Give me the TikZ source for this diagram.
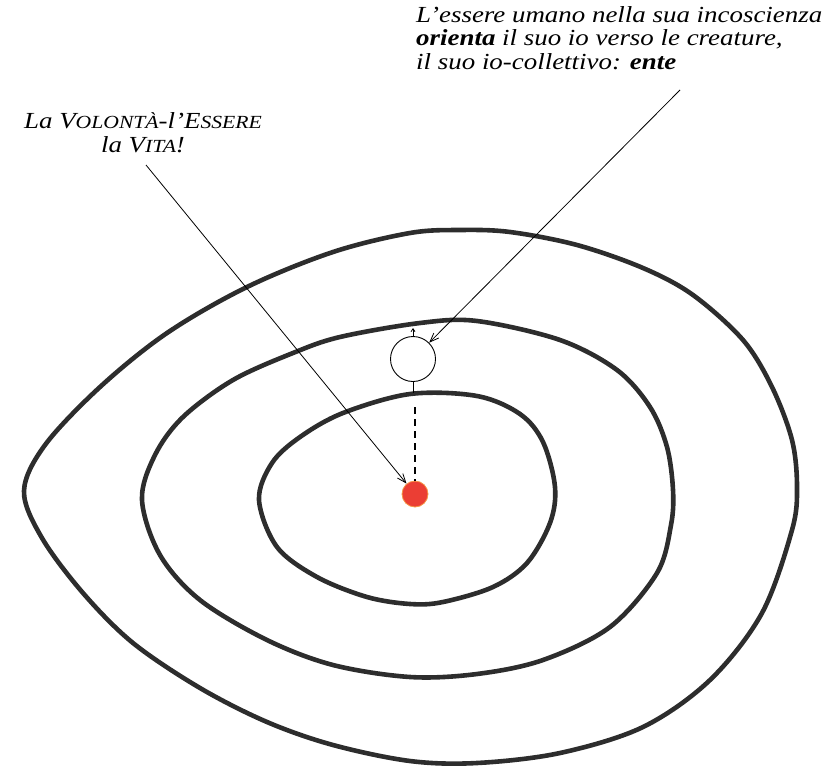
\documentclass[tikz,border=0pt]{standalone}
\usepackage{fontspec}
\setmainfont[FakeStretch=1.17]{Liberation Serif}
\usetikzlibrary{arrows.meta}
\definecolor{ink}{RGB}{45,45,45}
\definecolor{dotred}{RGB}{235,62,52}
\definecolor{dotrim}{RGB}{245,150,70}
\newcommand{\smc}[1]{{\fontsize{18.5}{18.5}\selectfont #1}}
\tikzset{
  ring/.style={draw=ink, line width=4.6pt, line join=round},
  pointer/.style={draw=black, line width=0.8pt, -{Straight Barb[length=9pt,width=7pt,line width=0.8pt]}},
  txt/.style={inner sep=0pt, font=\fontsize{23}{23.5}\selectfont\itshape},
}
\begin{document}
\begin{tikzpicture}[x=1pt,y=-1pt]
\useasboundingbox (0,0) rectangle (832,773);
% rings
\draw[ring] plot[smooth cycle, tension=0.55] coordinates {
 (24,491) (45,445) (100,387) (167,333) (247,287) (333,252) (410,233) (460,230) (510,232)
 (577,245) (643,268) (693,295) (743,340) (772,387) (792,440) (797,487) (792,530)
 (762,613) (710,680) (643,727) (560,753) (477,763) (410,761) (333,745) (267,722)
 (200,688) (133,643) (83,593) (42,538)};
\draw[ring] plot[smooth cycle, tension=0.55] coordinates {
 (142,500) (155,455) (183,417) (233,380) (293,353) (340,337) (420,323) (477,321)
 (560,340) (617,370) (650,407) (667,447) (673,490) (671,525) (657,573) (610,627)
 (543,660) (477,674) (410,677) (333,665) (267,640) (200,600) (160,555)};
\draw[ring] plot[smooth cycle, tension=0.55] coordinates {
 (259,500) (272,463) (300,437) (343,413) (410,394) (477,396) (520,414) (543,442)
 (555,487) (550,523) (527,563) (493,587) (443,602) (410,604) (367,597) (317,577)
 (277,547)};
% nodes
\node[circle, fill=dotred, draw=dotrim, line width=0.8pt, minimum size=26pt, inner sep=0pt] (dot) at (415,494) {};
\node[circle, draw=black, line width=0.9pt, minimum size=45pt, inner sep=0pt] (io) at (413,359) {};
\coordinate (innertop) at (413,393);
\coordinate (dashtop) at (415,407);
\coordinate (up) at (413,328);
\draw[line width=0.8pt] (io.south) -- (innertop);
\draw[line width=1.1pt, dash pattern=on 7pt off 5pt] (dashtop) -- (dot.north);
\draw[line width=0.8pt, -{Straight Barb[length=3pt,width=4pt]}] (io.north) -- (up);
% texts
\node[txt, align=center, anchor=base] (volonta) at (143,152)
  {La V\smc{OLONTÀ}-l’E\smc{SSERE}\\la V\smc{ITA}!};
\node[txt, align=left, anchor=north west] (umano) at (416,6)
  {L’essere umano nella sua incoscienza\\
   \textbf{orienta} il suo io verso le creature,\\
   il suo io-collettivo: \textbf{ente}};
\coordinate (a1) at (146,165);
\coordinate (a2) at (680,90);
\draw[pointer] (a1) -- (dot);
\draw[pointer] (a2) -- (io);
\end{tikzpicture}
\end{document}
